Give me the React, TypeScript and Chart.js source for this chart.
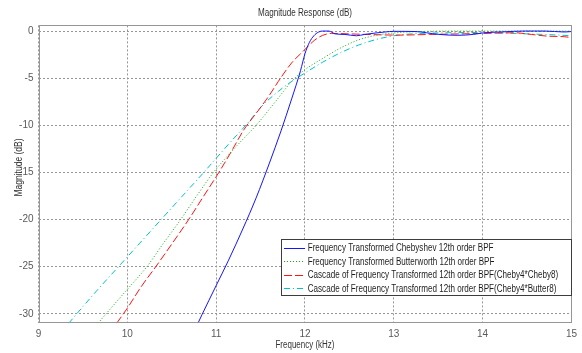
import React, { useEffect, useRef } from 'react';
import { Chart, registerables } from 'chart.js';

Chart.register(...registerables);

// ---- data ----
const chartTitle = 'Magnitude Response (dB)';
const xTitle = 'Frequency (kHz)';
const yTitle = 'Magnitude (dB)';

const xMin = 9;
const xMax = 15;
const yMin = -31;
const yMax = 0.6;
const xStep = 1;
const yStep = 5;

const seriesLabels = [
  'Frequency Transformed Chebyshev 12th order BPF',
  'Frequency Transformed Butterworth 12th order BPF',
  'Cascade of Frequency Transformed 12th order BPF(Cheby4*Cheby8)',
  'Cascade of Frequency Transformed 12th order BPF(Cheby4*Butter8)',
];

const chebyFreq = [10.795, 10.84, 11.0, 11.14, 11.3, 11.45, 11.6, 11.73, 11.85, 11.95, 12.0, 12.05, 12.1, 12.15, 12.2, 12.27, 12.34, 12.45, 12.58, 12.67, 12.8, 12.9, 13.0, 13.24, 13.5, 13.72, 13.9, 14.0, 14.25, 14.47, 14.7, 14.92, 15.0];
const chebyMag = [-31, -30.1, -27.0, -24.3, -21.0, -17.7, -14.0, -10.6, -7.2, -4.2, -2.4, -1.2, -0.5, -0.12, 0, 0, -0.3, -0.36, -0.5, -0.36, -0.2, -0.1, -0.03, -0.05, -0.35, -0.45, -0.35, -0.2, -0.08, 0, 0, -0.1, -0.05];

const butterFreq = [9.67, 9.76, 10.0, 10.22, 10.4, 10.6, 10.78, 10.97, 11.2, 11.45, 11.53, 11.7, 11.85, 12.0, 12.2, 12.4, 12.6, 12.8, 13.0, 13.3, 13.6, 14.0, 14.5, 15.0];
const butterMag = [-31, -30, -27.4, -25, -22.6, -20, -17.5, -15, -12.5, -10, -9.1, -7.1, -5.34, -4.1, -2.9, -1.8, -0.95, -0.45, -0.2, -0.05, 0, 0, 0, 0];

const cascadeCCFreq = [9.88, 9.955, 10.0, 10.15, 10.32, 10.5, 10.69, 10.86, 11.03, 11.17, 11.31, 11.48, 11.6, 11.7, 11.85, 11.98, 12.11, 12.2, 12.3, 12.5, 12.7, 13.05, 13.4, 13.8, 14.17, 14.36, 14.55, 14.73, 14.92, 15.0];
const cascadeCCMag = [-31, -30, -29.4, -27.2, -25, -22.6, -20, -17.5, -15, -12.8, -10.5, -8.36, -6.8, -5.34, -3.38, -2.14, -0.96, -0.45, -0.25, -0.3, -0.36, -0.43, -0.36, -0.29, -0.22, -0.18, -0.36, -0.54, -0.6, -0.7];

const cascadeCBFreq = [9.34, 9.43, 9.66, 9.9, 10.14, 10.38, 10.62, 10.86, 11.14, 11.37, 11.51, 11.7, 11.85, 12.0, 12.2, 12.4, 12.6, 12.8, 13.0, 13.2, 13.5, 14.0, 14.5, 14.8, 15.0];
const cascadeCBMag = [-31, -30, -27.5, -25, -22.5, -20, -17.5, -15, -12.0, -9.6, -8.0, -6.4, -5.34, -4.45, -3.3, -2.3, -1.5, -0.9, -0.5, -0.3, -0.2, -0.15, -0.3, -0.4, -0.5];

// ---- styles ----
const seriesColors = ['rgb(20,20,255)', 'rgb(20,175,20)', 'rgb(255,20,20)', 'rgb(0,195,200)'];
const seriesDashes: number[][] = [[], [1, 2], [8, 3], [6, 3, 1, 3]];

function toPoints(xs: number[], ys: number[]) {
  return xs.map((x, i) => ({ x, y: ys[i] }));
}

function pickFamily(ctx: CanvasRenderingContext2D) {
  const probe = 'Frequency Transformed abcdefg 0123';
  ctx.font = '20px serif';
  const base = ctx.measureText(probe).width;
  ctx.font = "20px 'Liberation Sans Narrow', serif";
  const narrow = ctx.measureText(probe).width;
  if (Math.abs(narrow - base) > 0.5) return "'Liberation Sans Narrow', 'Liberation Sans', Arial, sans-serif";
  return "'Liberation Sans', Arial, sans-serif";
}

function drawFitText(
  ctx: CanvasRenderingContext2D,
  text: string,
  x: number,
  y: number,
  targetW: number,
  font: string,
  color: string,
  align: CanvasTextAlign,
  rot = 0
) {
  ctx.save();
  ctx.font = font;
  const w = ctx.measureText(text).width;
  const k = w > 0 ? targetW / w : 1;
  ctx.translate(x, y);
  if (rot) ctx.rotate(rot);
  ctx.scale(k, 1);
  ctx.textAlign = align;
  ctx.textBaseline = 'alphabetic';
  ctx.fillStyle = color;
  ctx.fillText(text, 0, 0);
  ctx.restore();
}

export default function App() {
  const ref = useRef<HTMLCanvasElement>(null);

  useEffect(() => {
    document.body.style.margin = '0';
    const canvas = ref.current;
    if (!canvas) return;
    const c2d = canvas.getContext('2d');
    if (!c2d) return;
    const family = pickFamily(c2d);
    const textFont = `10px ${family}`;

    const decorPlugin = {
      id: 'matlabDecor',
      afterDraw(chart: any) {
        const ctx: CanvasRenderingContext2D = chart.ctx;
        const a = chart.chartArea;
        // axes box
        ctx.save();
        ctx.strokeStyle = 'rgb(150,150,150)';
        ctx.lineWidth = 1;
        ctx.strokeRect(Math.round(a.left) + 0.5, Math.round(a.top) + 0.5, Math.round(a.right - a.left) - 1, Math.round(a.bottom - a.top) - 1);
        ctx.restore();

        // title and axis titles
        const cx = (a.left + a.right) / 2;
        drawFitText(ctx, chartTitle, cx, 16, 94, textFont, 'rgb(50,50,50)', 'center');
        drawFitText(ctx, xTitle, cx, 347.5, 59, textFont, 'rgb(50,50,50)', 'center');
        drawFitText(ctx, yTitle, 21.5, 167.5, 58, textFont, 'rgb(50,50,50)', 'center', -Math.PI / 2);

        // legend
        const lx = 281.5;
        const ly = 239.5;
        const lw = 290;
        const lh = 56;
        ctx.save();
        ctx.fillStyle = '#ffffff';
        ctx.fillRect(lx, ly, lw, lh);
        ctx.strokeStyle = 'rgb(60,60,60)';
        ctx.lineWidth = 1;
        ctx.strokeRect(lx, ly, lw, lh);
        ctx.restore();

        ctx.save();
        ctx.font = textFont;
        const refW = ctx.measureText(seriesLabels[2]).width;
        ctx.restore();
        const k = 250.6 / refW;
        chart.data.datasets.forEach((ds: any, i: number) => {
          const rowY = 247.5 + i * 13.5;
          ctx.save();
          ctx.strokeStyle = ds.borderColor;
          ctx.lineWidth = 1;
          ctx.setLineDash(ds.borderDash || []);
          ctx.beginPath();
          ctx.moveTo(284, Math.round(rowY) + 0.5);
          ctx.lineTo(305, Math.round(rowY) + 0.5);
          ctx.stroke();
          ctx.restore();
          ctx.save();
          ctx.font = textFont;
          const w = ctx.measureText(ds.label).width;
          ctx.restore();
          drawFitText(ctx, ds.label, 307.7, rowY + 3.6, w * k, textFont, 'rgb(30,30,30)', 'left');
        });
      },
    };

    const chart = new Chart(canvas, {
      type: 'line',
      data: {
        datasets: [
          { label: seriesLabels[0], data: toPoints(chebyFreq, chebyMag) },
          { label: seriesLabels[1], data: toPoints(butterFreq, butterMag) },
          { label: seriesLabels[2], data: toPoints(cascadeCCFreq, cascadeCCMag) },
          { label: seriesLabels[3], data: toPoints(cascadeCBFreq, cascadeCBMag) },
        ].map((d, i) => ({
          ...d,
          borderColor: seriesColors[i],
          backgroundColor: seriesColors[i],
          borderDash: seriesDashes[i],
          borderWidth: 1,
          pointRadius: 0,
          pointHoverRadius: 0,
          fill: false,
          cubicInterpolationMode: 'monotone' as const,
        })),
      },
      options: {
        animation: false,
        responsive: false,
        devicePixelRatio: 1,
        events: [],
        layout: { padding: { top: 25.4, right: 7.5, left: 0, bottom: 0 } },
        plugins: {
          legend: { display: false },
          title: { display: false },
          tooltip: { enabled: false },
        },
        scales: {
          x: {
            type: 'linear',
            min: xMin,
            max: xMax,
            afterFit: (s: any) => {
              s.height = 29.7;
            },
            ticks: {
              stepSize: xStep,
              includeBounds: false,
              padding: 5,
              color: 'rgb(90,90,90)',
              font: { family: family, size: 10 },
              maxRotation: 0,
              callback: (v: any) => String(v),
            },
            grid: { color: 'rgb(150,150,150)', lineWidth: 1, drawTicks: false, borderDash: [2, 2] } as any,
            border: { display: false, dash: [2, 2] } as any,
          },
          y: {
            type: 'linear',
            min: yMin,
            max: yMax,
            afterFit: (s: any) => {
              s.width = 38.5;
            },
            ticks: {
              stepSize: yStep,
              includeBounds: false,
              padding: 5,
              color: 'rgb(90,90,90)',
              font: { family: family, size: 10 },
              callback: (v: any) => String(v),
            },
            grid: { color: 'rgb(150,150,150)', lineWidth: 1, drawTicks: false, borderDash: [2, 2] } as any,
            border: { display: false, dash: [2, 2] } as any,
          },
        },
      } as any,
      plugins: [decorPlugin],
    });

    return () => chart.destroy();
  }, []);

  return (
    <div style={{ position: 'absolute', left: 0, top: 0, width: 582, height: 353, background: '#ffffff' }}>
      <canvas ref={ref} width={582} height={353} style={{ display: 'block', width: 582, height: 353 }} />
    </div>
  );
}
